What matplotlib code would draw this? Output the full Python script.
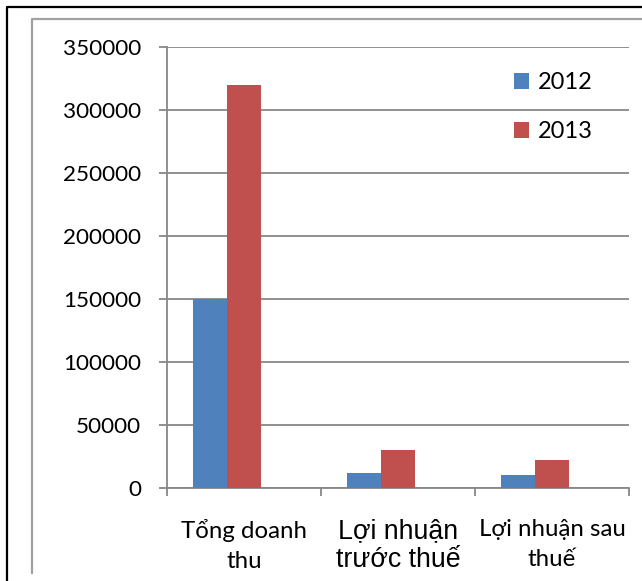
import matplotlib
matplotlib.use("Agg")
import matplotlib.pyplot as plt
import numpy as np
from matplotlib.lines import Line2D

categories = ["Tổng doanh\nthu", "Lợi nhuận\ntrước thuế", "Lợi nhuận sau\nthuế"]
series_names = ["2012", "2013"]
values_2012 = [150000, 12000, 10000]
values_2013 = [320000, 30500, 22000]
y_ticks = [0, 50000, 100000, 150000, 200000, 250000, 300000, 350000]

W, H = 642, 581
fig = plt.figure(figsize=(W / 100, H / 100), dpi=100)
ax = fig.add_axes([167 / W, 1 - 488 / H, (629 - 167) / W, (488 - 47) / H])

colors = ["#4F81BD", "#C0504D"]
x = np.arange(len(categories))
w = 1 / 4.5
ax.bar(x - w, values_2012, width=w, color=colors[0], label=series_names[0], zorder=3)
ax.bar(x, values_2013, width=w, color=colors[1], label=series_names[1], zorder=3)

ax.set_xlim(-0.5, len(categories) - 0.5)
ax.set_ylim(0, 350000)
ax.set_yticks(y_ticks)
ax.set_yticklabels([str(v) for v in y_ticks], fontsize=16.2, family="Lato")
ax.yaxis.grid(True, color="#878787", linewidth=1.3, zorder=0)
ax.set_axisbelow(True)

ax.set_xticks(np.arange(len(categories) + 1) - 0.5)
ax.set_xticklabels([])
ax.set_xticks(x, minor=True)
ax.set_xticklabels(categories, minor=True)
ax.tick_params(axis="x", which="minor", length=0, pad=22)
ax.tick_params(axis="x", which="major", length=5.8, width=1.3, color="#878787")
ax.tick_params(axis="y", length=5.8, width=1.3, color="#878787", pad=13)

for i, lab in enumerate(ax.get_xticklabels(minor=True)):
    if i == 1:
        lab.set_family("Liberation Sans")
        lab.set_fontsize(19.3)
        lab.set_linespacing(1.12)
    else:
        lab.set_family("Lato")
        lab.set_fontsize(17.3)
        lab.set_linespacing(1.55)
    lab.set_verticalalignment("top")

for s in ["top", "right"]:
    ax.spines[s].set_visible(False)
for s in ["left", "bottom"]:
    ax.spines[s].set_color("#878787")
    ax.spines[s].set_linewidth(1.3)

ax.legend(loc="upper left", bbox_to_anchor=(0.751, 0.943), frameon=False,
          prop={"family": "Lato", "size": 17}, handlelength=0.65, handleheight=0.65,
          handletextpad=0.35, labelspacing=1.2, borderpad=0, borderaxespad=0)

fig.add_artist(Line2D([7 / W, 7 / W, 1], [0, 1 - 7 / H, 1 - 7 / H],
                      color="black", linewidth=1.6, transform=fig.transFigure))
fig.add_artist(Line2D([32 / W, 32 / W, 1], [1 - 573 / H, 1 - 19 / H, 1 - 19 / H],
                      color="#a0a0a0", linewidth=1.6, transform=fig.transFigure))

fig.savefig("out.png", dpi=100)
